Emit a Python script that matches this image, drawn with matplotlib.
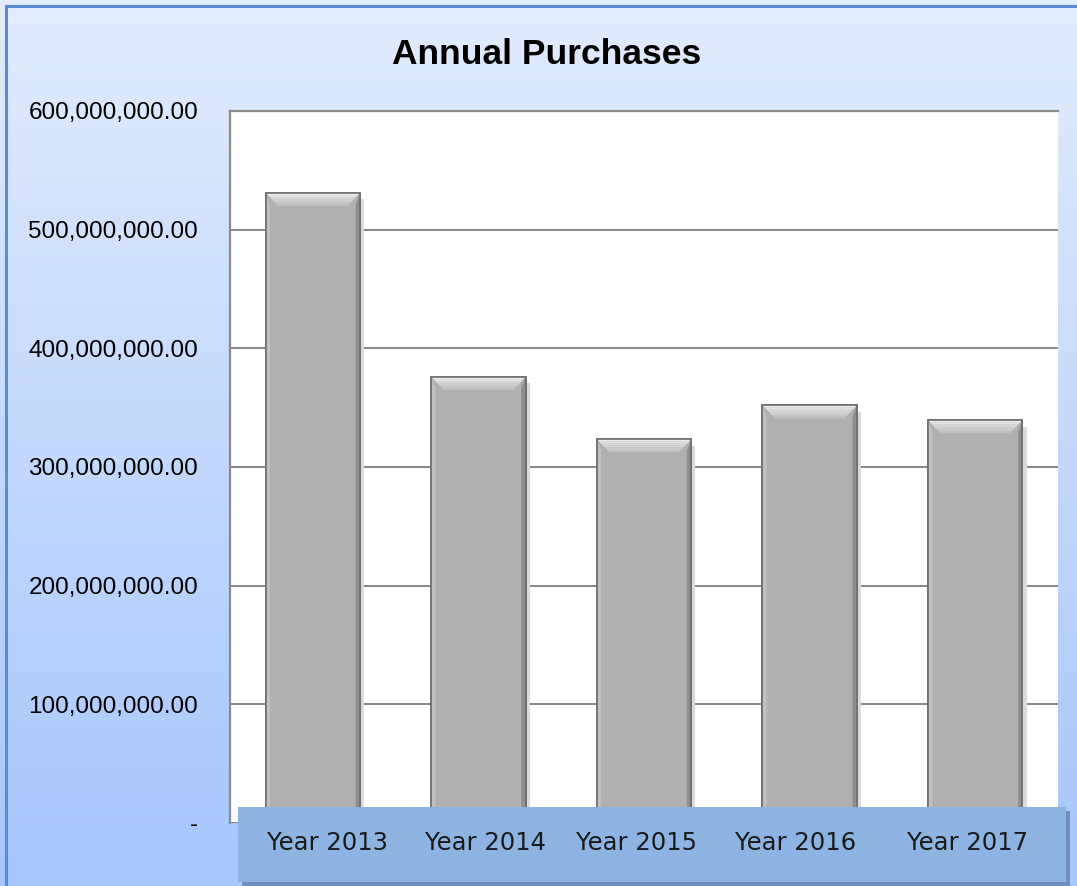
import numpy as np
import matplotlib.pyplot as plt
from matplotlib.patches import Polygon, Rectangle
from matplotlib.ticker import FuncFormatter

years = ['Year 2013', 'Year 2014', 'Year 2015', 'Year 2016', 'Year 2017']
purchases = [531000000, 376000000, 323500000, 352000000, 339500000]
yticks = [0, 100000000, 200000000, 300000000, 400000000, 500000000, 600000000]

W, H = 1077, 886
fig = plt.figure(figsize=(W / 100, H / 100), dpi=100)

# background gradient over the whole figure
bg = fig.add_axes([0, 0, 1, 1], zorder=-10)
grad = np.linspace(0, 1, 256)[:, None]
top = np.array([226, 236, 253]) / 255
bot = np.array([166, 198, 252]) / 255
img = top[None, None, :] * (1 - grad[..., None]) + bot[None, None, :] * grad[..., None]
bg.imshow(np.repeat(img, 2, axis=1), aspect='auto', extent=[0, 1, 0, 1])
bg.add_patch(Rectangle((6 / W, -0.1), 1.2, 1 - 6 / H + 0.1, fill=False,
                       edgecolor='#5B8BD0', lw=2.2, transform=bg.transAxes))
bg.set_xlim(0, 1)
bg.set_ylim(0, 1)
bg.axis('off')

ax = fig.add_axes([230 / W, 1 - 823 / H, (1058 - 230) / W, (823 - 111) / H])
ax.set_facecolor('white')
x = np.arange(len(years))
bw = 0.57
bars = ax.bar(x, purchases, width=bw, color='#B0B0B0', edgecolor='#707070',
              linewidth=1.2, zorder=3)

# bevel effect on each bar
bx = 0.075   # horizontal bevel, axis units
by = 11e6    # vertical bevel, data units
for b in bars:
    x0, x1 = b.get_x(), b.get_x() + b.get_width()
    h = b.get_height()
    # top bevel: stacked strips from light to bar colour
    n = 6
    for k in range(n):
        f0, f1 = k / n, (k + 1) / n
        c = 0.93 - (0.93 - 0.72) * f0
        ax.add_patch(Polygon([[x0 + bx * f0, h - by * f0], [x1 - bx * f0, h - by * f0],
                              [x1 - bx * f1, h - by * f1], [x0 + bx * f1, h - by * f1]],
                             closed=True, facecolor=(c, c, c), edgecolor='none', zorder=4))
    ax.add_patch(Polygon([[x0, h], [x0 + bx * 0.35, h - by * 0.9], [x0 + bx * 0.35, 0], [x0, 0]],
                         closed=True, facecolor='#C0C0C0', edgecolor='none', zorder=4))
    ax.add_patch(Polygon([[x1, h], [x1 - bx * 0.35, h - by * 0.9], [x1 - bx * 0.35, 0], [x1, 0]],
                         closed=True, facecolor='#8E8E8E', edgecolor='none', zorder=4))
    ax.add_patch(Rectangle((x0, 0), b.get_width(), h, fill=False,
                           edgecolor='#6E6E6E', lw=1.2, zorder=5))
    # soft shadow right of the bar
    ax.add_patch(Rectangle((x1, 0), 0.025, h - by * 0.5, facecolor='#DADADA',
                           edgecolor='none', zorder=2))

ax.set_xlim(-0.5, len(years) - 0.5)
ax.set_ylim(0, 600000000)
ax.set_yticks(yticks)
ax.yaxis.set_major_formatter(FuncFormatter(lambda v, p: '-' if v == 0 else f'{v:,.2f}'))
ax.tick_params(axis='y', length=0, pad=23, labelsize=17.5)
for lab in ax.get_yticklabels():
    lab.set_fontfamily('Liberation Sans')
ax.set_xticks([])
ax.grid(axis='y', color='#868686', lw=1.4, zorder=1)
for s in ['left', 'top']:
    ax.spines[s].set_color('#8A8A8A')
    ax.spines[s].set_linewidth(1.6)
for s in ['right', 'bottom']:
    ax.spines[s].set_visible(False)

# category band across the bottom
band_sh = fig.add_axes([242 / W, 1 - 886 / H, (1070 - 242) / W, (886 - 811) / H], zorder=5)
band_sh.set_facecolor('#6F8FBF')
band_sh.set_xticks([]); band_sh.set_yticks([])
for s in band_sh.spines.values():
    s.set_visible(False)
band = fig.add_axes([238 / W, 1 - 882 / H, (1066 - 238) / W, (882 - 807) / H], zorder=6)
band.set_facecolor('#8DB3E2')
band.set_xlim(-0.5 + (238 - 230) / 165.6, len(years) - 0.5 + (1066 - 1058) / 165.6)
band.set_ylim(0, 1)
band.set_xticks([]); band.set_yticks([])
for s in band.spines.values():
    s.set_visible(False)
offs = [0.09, 0.042, -0.048, -0.085, -0.048]
for i, lab in enumerate(years):
    band.text(i + offs[i], 0.52, lab, ha='center', va='center', fontsize=17.5,
              family='DejaVu Sans', color='#1A1A1A')

fig.text(547 / W, 1 - 55 / H, 'Annual Purchases', ha='center', va='center',
         fontsize=25.5, fontweight='bold', family='Liberation Sans')

fig.savefig('out.png', dpi=100)
